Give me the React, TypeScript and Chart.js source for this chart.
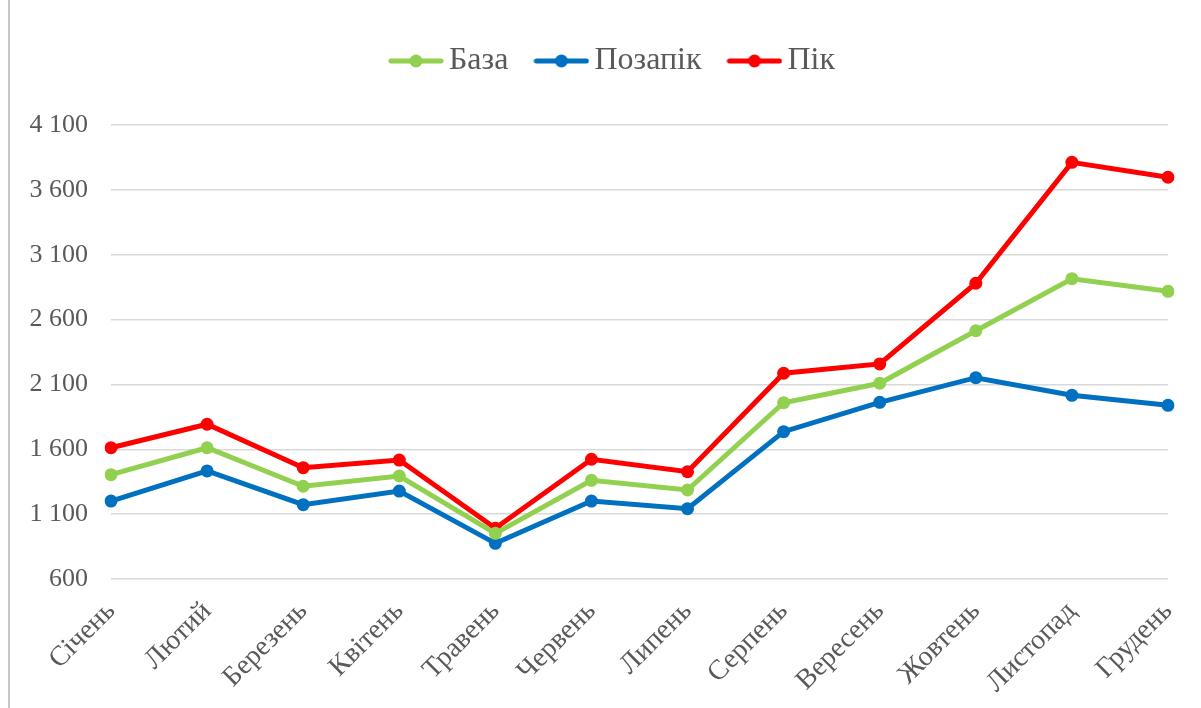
import React, { useEffect, useRef } from "react";
import { Chart, registerables } from "chart.js";

Chart.register(...registerables);

const months = [
  "Січень", "Лютий", "Березень", "Квітень", "Травень", "Червень",
  "Липень", "Серпень", "Вересень", "Жовтень", "Листопад", "Грудень",
];
const baseValues = [1404, 1612, 1315, 1394, 952, 1361, 1286, 1959, 2109, 2514, 2915, 2818];
const offPeakValues = [1201, 1433, 1173, 1278, 875, 1201, 1142, 1736, 1962, 2152, 2016, 1939];
const peakValues = [1612, 1793, 1458, 1517, 991, 1523, 1427, 2186, 2258, 2880, 3812, 3697];
const seriesNames = ["База", "Позапік", "Пік"];
const seriesColors = ["#92D050", "#0070C0", "#FF0000"];
const yMin = 600;
const yMax = 4100;
const yStep = 500;

const FONT = "'Liberation Serif', 'Times New Roman', serif";
const TEXT = "#595959";

function legendIcon(color: string): HTMLCanvasElement {
  const c = document.createElement("canvas");
  c.width = 56;
  c.height = 16;
  const ctx = c.getContext("2d")!;
  ctx.strokeStyle = color;
  ctx.lineWidth = 5;
  ctx.lineCap = "round";
  ctx.beginPath();
  ctx.moveTo(3, 8);
  ctx.lineTo(53, 8);
  ctx.stroke();
  ctx.fillStyle = color;
  ctx.beginPath();
  ctx.arc(28, 8, 6.5, 0, Math.PI * 2);
  ctx.fill();
  return c;
}

const frame = {
  id: "frame",
  beforeUpdate(chart: any) {
    const lg = chart.legend;
    if (lg && !lg._patched) {
      const orig = lg.fit.bind(lg);
      lg.fit = function () {
        orig();
        this.height += 38;
      };
      lg._patched = true;
    }
  },
  afterLayout(chart: any) {
    const lg = chart.legend;
    if (lg) {
      lg.left += 66;
    }
  },
  beforeDraw(chart: any) {
    const ctx = chart.ctx;
    ctx.save();
    ctx.fillStyle = "#ffffff";
    ctx.fillRect(0, 0, chart.width, chart.height);
    ctx.strokeStyle = "#c6c6c6";
    ctx.lineWidth = 2;
    ctx.beginPath();
    ctx.moveTo(9, 0);
    ctx.lineTo(9, chart.height);
    ctx.stroke();
    ctx.restore();
  },
};

export default function App() {
  const ref = useRef<HTMLCanvasElement>(null);
  useEffect(() => {
    const icons = seriesColors.map(legendIcon);
    const allValues = [baseValues, offPeakValues, peakValues];
    const chart = new Chart(ref.current!, {
      type: "line",
      data: {
        labels: months,
        datasets: allValues.map((vals, i) => ({
          label: seriesNames[i],
          data: vals,
          borderColor: seriesColors[i],
          backgroundColor: seriesColors[i],
          borderWidth: 5,
          pointRadius: 6.5,
          pointBorderWidth: 0,
          pointStyle: "circle",
          tension: 0,
        })),
      },
      options: {
        animation: false,
        responsive: true,
        maintainAspectRatio: false,
        layout: { padding: { top: 9, right: 33, left: 0, bottom: 0 } },
        plugins: {
          legend: {
            position: "top",
            labels: {
              usePointStyle: true,
              pointStyleWidth: 34,
              padding: 36,
              color: TEXT,
              font: { family: FONT, size: 32 },
              generateLabels: (chart: any) =>
                chart.data.datasets.map((d: any, i: number) => ({
                  text: d.label,
                  fillStyle: seriesColors[i],
                  strokeStyle: seriesColors[i],
                  lineWidth: 0,
                  pointStyle: icons[i],
                  fontColor: TEXT,
                  hidden: false,
                  datasetIndex: i,
                })),
            },
          },
          tooltip: { enabled: false },
        },
        scales: {
          x: {
            grid: { display: false },
            border: { display: false },
            offset: false,
            ticks: {
              color: TEXT,
              font: { family: FONT, size: 28 },
              minRotation: 45,
              maxRotation: 45,
              padding: 8,
              autoSkip: false,
            },
            afterFit: (s: any) => {
              s.height = 129;
            },
          },
          y: {
            min: yMin,
            max: yMax,
            grid: { color: "#d9d9d9", lineWidth: 1.5, drawTicks: false },
            border: { display: false },
            ticks: {
              stepSize: yStep,
              color: TEXT,
              padding: 23,
              font: { family: FONT, size: 26 },
              callback: (v: any) => String(v).replace(/\B(?=(\d{3})+(?!\d))/g, " "),
            },
            afterFit: (s: any) => {
              s.width = 111;
            },
          },
        },
      },
      plugins: [frame],
    });
    return () => chart.destroy();
  }, []);
  return (
    <div style={{ position: "absolute", left: 0, top: 0, width: 1201, height: 708 }}>
      <canvas ref={ref} />
    </div>
  );
}
